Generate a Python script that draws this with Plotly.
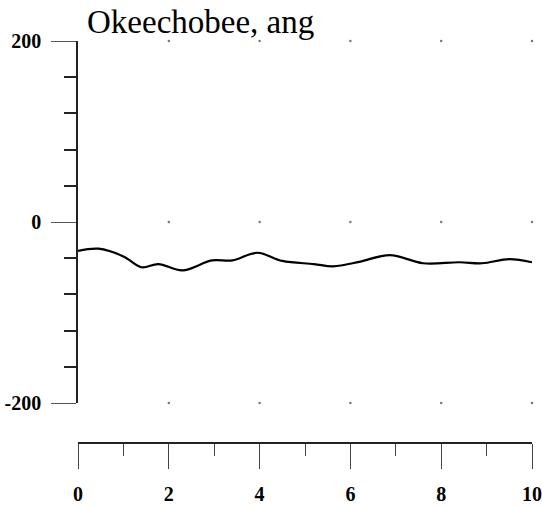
import plotly.graph_objects as go

# Data
time_x = [0.0, 0.45, 1.0, 1.4, 1.77, 2.3, 2.95, 3.4, 3.95, 4.5, 5.2, 5.62, 6.2, 6.87, 7.6, 8.4, 8.9, 9.5, 10.0]
ang_y = [-32, -29.5, -38, -50, -46.5, -53.5, -42.5, -42.5, -34, -43, -46.5, -49, -44, -36.5, -45.6, -44.5, -45.6, -41, -44.5]

x_major = [0, 2, 4, 6, 8, 10]
y_major = [-200, 0, 200]
grid_x = [2, 4, 6, 8, 10]

title_text = "Okeechobee, ang"

W, H = 542, 507
L, R, T = 78, 10, 41
B = H - 443
plot_h = H - T - B
ydom0 = 40 / plot_h

fig = go.Figure()

# faint grid dots
gx, gy = [], []
for yv in y_major:
    for xv in grid_x:
        gx.append(xv)
        gy.append(yv)
fig.add_trace(go.Scatter(x=gx, y=gy, mode="markers",
                         marker=dict(size=2.5, color="#777"),
                         hoverinfo="skip", showlegend=False, cliponaxis=False))

fig.add_trace(go.Scatter(x=time_x, y=ang_y, mode="lines",
                         line=dict(color="black", width=2.2, shape="spline", smoothing=1.0),
                         showlegend=False, cliponaxis=False))

tickfont = dict(family="Liberation Serif, Times New Roman, serif", size=20, color="black", weight="bold")

fig.update_layout(
    width=W, height=H,
    margin=dict(l=L, r=R, t=T, b=B, pad=0, autoexpand=False),
    paper_bgcolor="white", plot_bgcolor="white",
    xaxis=dict(range=[0, 10], anchor="free", position=0, automargin=False,
               showline=True, linecolor="#222", linewidth=1.5,
               showgrid=False, zeroline=False,
               tickmode="array", tickvals=x_major, ticktext=[str(v) for v in x_major],
               ticks="outside", ticklen=25, tickwidth=1.3, tickcolor="#444",
               minor=dict(tickmode="array", tickvals=[1, 3, 5, 7, 9], ticks="outside",
                          ticklen=12, tickwidth=1.3, tickcolor="#444"),
               tickfont=tickfont, ticklabelstandoff=8),
    yaxis=dict(range=[-200, 200], domain=[ydom0, 1], automargin=False,
               showline=True, linecolor="#222", linewidth=1.5,
               showgrid=False, zeroline=False,
               tickmode="array", tickvals=y_major, ticktext=[str(v) for v in y_major],
               ticks="outside", ticklen=25, tickwidth=1.3, tickcolor="#555",
               minor=dict(tickmode="array", tickvals=[-160, -120, -80, -40, 40, 80, 120, 160],
                          ticks="outside", ticklen=12, tickwidth=1.5, tickcolor="#222"),
               tickfont=tickfont, ticklabelstandoff=6),
    annotations=[dict(text=title_text, xref="paper", yref="paper",
                      x=(85 - L) / (W - L - R), y=(H - B - 22) / plot_h,
                      xanchor="left", yanchor="middle", showarrow=False,
                      font=dict(family="Liberation Serif, Times New Roman, serif", size=33, color="black"))],
)

fig.write_html(
    "out.html",
    config={"displayModeBar": False},
    post_script="document.body.style.margin='0';document.documentElement.style.overflow='hidden';",
)
